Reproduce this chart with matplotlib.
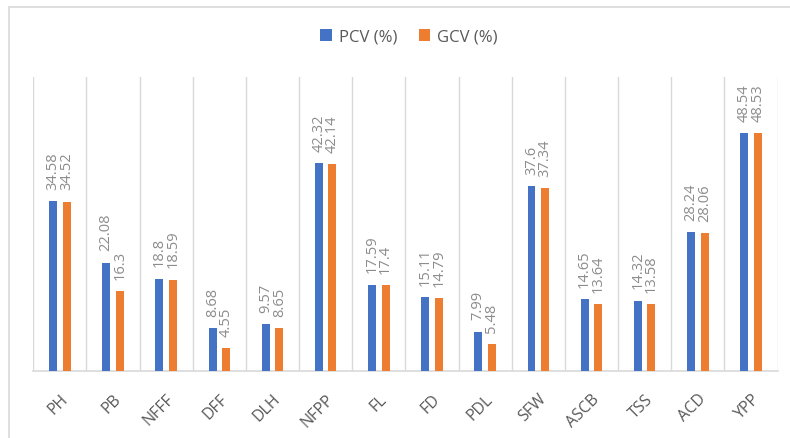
import numpy as np
import matplotlib.pyplot as plt
from matplotlib.patches import Rectangle

# Datos
traits = ['PH', 'PB', 'NFFF', 'DFF', 'DLH', 'NFPP', 'FL', 'FD', 'PDL',
          'SFW', 'ASCB', 'TSS', 'ACD', 'YPP']
pcv = [34.58, 22.08, 18.8, 8.68, 9.57, 42.32, 17.59, 15.11, 7.99,
       37.6, 14.65, 14.32, 28.24, 48.54]
gcv = [34.52, 16.3, 18.59, 4.55, 8.65, 42.14, 17.4, 14.79, 5.48,
       37.34, 13.64, 13.58, 28.06, 48.53]

blue = '#4472C4'
orange = '#ED7D31'
grid_col = '#D9D9D9'
label_col = '#8C8C8C'
text_col = '#595959'

plt.rcParams['font.family'] = ['Open Sans', 'DejaVu Sans']

W, H = 790, 438
fig = plt.figure(figsize=(W / 100, H / 100), dpi=100)

# Borde exterior del gráfico
fig.patches.append(Rectangle((9 / W, -0.1), 1.1, 1 - 7 / H + 0.1,
                             transform=fig.transFigure, fill=False,
                             edgecolor=grid_col, linewidth=1.2))

left, right = 33.3 / W, 777.5 / W
bottom, top = (H - 370.7) / H, (H - 76.7) / H
ax = fig.add_axes([left, bottom, right - left, top - bottom])

x = np.arange(len(traits))
w = 0.15
off = 0.128
b1 = ax.bar(x - off, pcv, w, color=blue, label='PCV (%)', zorder=3)
b2 = ax.bar(x + off, gcv, w, color=orange, label='GCV (%)', zorder=3)

# Etiquetas de valores
for bars, vals in ((b1, pcv), (b2, gcv)):
    for r, v in zip(bars, vals):
        ax.annotate(f'{v:g}', (r.get_x() + r.get_width() / 2, v),
                    xytext=(0, 8), textcoords='offset points',
                    rotation=90, ha='center', va='bottom',
                    fontsize=10.5, color=label_col)

# Separadores de categorías
for k in range(len(traits) + 1):
    ax.axvline(k - 0.5, color=grid_col, linewidth=1, zorder=1)

ax.set_xlim(-0.5, len(traits) - 0.5)
ax.set_ylim(0, 60)
ax.set_yticks([])
for s in ['top', 'right', 'left']:
    ax.spines[s].set_visible(False)
ax.spines['bottom'].set_color(grid_col)
ax.spines['bottom'].set_linewidth(1.2)

ax.set_xticks(x)
ax.set_xticklabels(traits, rotation=45, ha='right', va='top',
                   rotation_mode='anchor', fontsize=11.5, color=text_col)
ax.tick_params(axis='x', length=0, pad=15)

fig.legend(handles=[b1, b2], loc='center', bbox_to_anchor=(409 / W, 1 - 37 / H),
           ncol=2, frameon=False, fontsize=12, labelcolor=text_col,
           handlelength=0.7, handleheight=0.7, handletextpad=0.4,
           columnspacing=1.3)

fig.savefig('out.png', dpi=100)
